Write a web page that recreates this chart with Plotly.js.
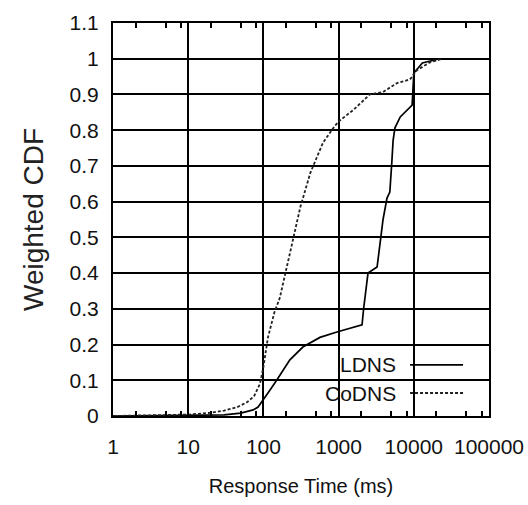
<!DOCTYPE html>
<html><head><meta charset="utf-8">
<script src="https://cdn.plot.ly/plotly-3.0.1.min.js"></script>
<style>html,body{margin:0;padding:0;background:#fff;}#chart{width:528px;height:505px;}</style>
</head><body><div id="chart"></div>
<script>
// Response time (ms) vs weighted CDF
const ldnsX = [1, 10, 30, 50, 73, 85, 100, 120, 150, 225, 335, 565, 950, 1400, 2050, 2150, 2460, 3250, 3550, 3900, 4400, 4800, 5100, 5300, 5600, 6600, 9500, 10000, 13000, 22000];
const ldnsY = [0, 0.001, 0.003, 0.008, 0.017, 0.025, 0.045, 0.07, 0.1, 0.157, 0.193, 0.22, 0.235, 0.245, 0.255, 0.3, 0.4, 0.417, 0.49, 0.55, 0.61, 0.627, 0.71, 0.77, 0.806, 0.837, 0.87, 0.96, 0.988, 1.0];
const codnsX = [1, 3, 10, 20, 30, 45, 60, 75, 90, 100, 115, 140, 165, 225, 310, 420, 620, 890, 1050, 1560, 2600, 3900, 6000, 8900, 11000, 16500, 24000];
const codnsY = [0, 0.002, 0.004, 0.009, 0.015, 0.025, 0.038, 0.055, 0.09, 0.137, 0.22, 0.29, 0.33, 0.455, 0.585, 0.68, 0.765, 0.812, 0.828, 0.856, 0.9, 0.907, 0.932, 0.942, 0.968, 0.99, 1.0];
const seriesNames = ['LDNS', 'CoDNS'];
const xTickVals = [1, 10, 100, 1000, 10000, 100000];
const xTickText = ['1', '10', '100', '1000', '10000', '100000'];
const xMinorVals = [2, 5, 8, 20, 50, 80, 200, 500, 800, 2000, 5000, 8000, 20000, 50000, 80000];
const xTitle = 'Response Time (ms)';
const yTitle = 'Weighted CDF';

const sans = 'Liberation Sans, Arial, sans-serif';
const data = [
  {x: ldnsX, y: ldnsY, name: seriesNames[0], type: 'scatter', mode: 'lines',
   line: {color: '#000', width: 1.7}, showlegend: false},
  {x: codnsX, y: codnsY, name: seriesNames[1], type: 'scatter', mode: 'lines',
   line: {color: '#222', width: 1.8, dash: '3px,2px'}, showlegend: false}
];
const layout = {
  width: 528, height: 505,
  margin: {l: 113, r: 39, t: 23, b: 89},
  paper_bgcolor: '#fff', plot_bgcolor: '#fff',
  font: {family: sans, size: 21, color: '#111'},
  xaxis: {
    type: 'log', range: [0, 5],
    tickmode: 'array', tickvals: xTickVals, ticktext: xTickText,
    showgrid: true, gridcolor: '#000', gridwidth: 2,
    showline: true, linecolor: '#000', linewidth: 2, mirror: 'ticks',
    ticks: 'inside', ticklen: 6, tickwidth: 2, tickcolor: '#000',
    minor: {tickmode: 'array', tickvals: xMinorVals, ticks: 'inside', ticklen: 5, tickwidth: 2, tickcolor: '#000'},
    ticklabelstandoff: 11, ticklabeloverflow: 'allow',
    zeroline: false,
    title: {text: xTitle, font: {family: sans, size: 20, color: '#111'}, standoff: 22},
    tickfont: {family: sans, size: 21, color: '#111'}
  },
  yaxis: {
    range: [0, 1.1], dtick: 0.1, tick0: 0,
    showgrid: true, gridcolor: '#000', gridwidth: 2,
    showline: true, linecolor: '#000', linewidth: 2, mirror: true,
    ticks: '', zeroline: false,
    ticklabelstandoff: 8,
    title: {text: yTitle, font: {family: sans, size: 28, color: '#222'}, standoff: 18},
    tickfont: {family: sans, size: 21, color: '#111'}
  },
  shapes: [
    {type: 'rect', xref: 'paper', yref: 'paper', x0: 0.57, x1: 0.963, y0: 0, y1: 0.177,
     fillcolor: '#fff', line: {width: 0}, layer: 'between'},
    {type: 'line', xref: 'paper', yref: 'paper', x0: 0.79, x1: 0.931, y0: 0.130, y1: 0.130,
     line: {color: '#000', width: 1.7}},
    {type: 'line', xref: 'paper', yref: 'paper', x0: 0.79, x1: 0.931, y0: 0.0585, y1: 0.0585,
     line: {color: '#222', width: 1.8, dash: '3px,2px'}}
  ],
  annotations: [
    {xref: 'paper', yref: 'paper', x: 0.757, y: 0.130, xanchor: 'right', yanchor: 'middle',
     text: seriesNames[0], showarrow: false, font: {family: sans, size: 21, color: '#111'}},
    {xref: 'paper', yref: 'paper', x: 0.757, y: 0.0585, xanchor: 'right', yanchor: 'middle',
     text: seriesNames[1], showarrow: false, font: {family: sans, size: 21, color: '#111'}}
  ]
};
Plotly.newPlot('chart', data, layout, {staticPlot: true, displayModeBar: false});
</script>
</body></html>
